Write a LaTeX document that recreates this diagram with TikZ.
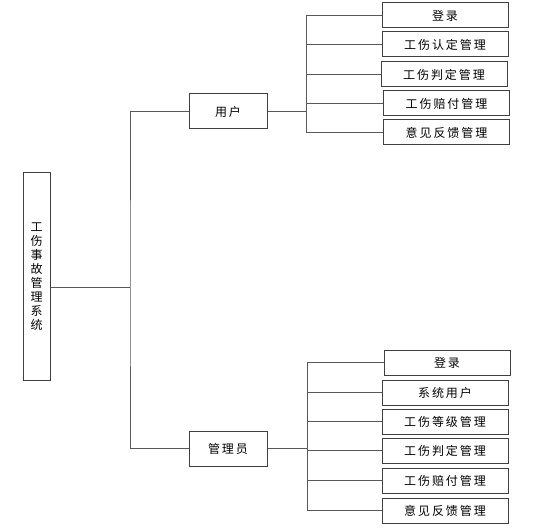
\documentclass[tikz,border=0pt]{standalone}
\usepackage{fontspec}
\setmainfont{Noto Sans CJK SC}[LetterSpace=16]
\usetikzlibrary{positioning}

\begin{document}
\begin{tikzpicture}[x=1pt, y=-1pt,
        box/.style={draw=black!75, line width=1pt, inner sep=0pt, font=\fontsize{12}{14}\selectfont},
        root box/.style={box, minimum width=27, minimum height=207, align=center},
        role box/.style={box, minimum width=78, minimum height=35},
        leaf box/.style={box, minimum width=126, minimum height=25},
        link/.style={draw=black!65, line width=1pt}
    ]
        \useasboundingbox (0,0) rectangle (543,529);

        % root and the two roles
        \node[root box] (system) at (36.5,276.5) {工\\伤\\事\\故\\管\\理\\系\\统};
        \node[role box] (user) at (228,111.5) {用户};
        \node[role box] (admin) at (228,448.5) {管理员};

        % functions of the user
        \node[leaf box] (u1) at (445,15.5) {登录};
        \node[leaf box] (u2) at (445,44.5) {工伤认定管理};
        \node[leaf box] (u3) at (444,74.5) {工伤判定管理};
        \node[leaf box] (u4) at (446.5,103.5) {工伤赔付管理};
        \node[leaf box] (u5) at (446.5,132.5) {意见反馈管理};

        % functions of the admin
        \node[leaf box] (a1) at (447,362.5) {登录};
        \node[leaf box] (a2) at (445,392.5) {系统用户};
        \node[leaf box] (a3) at (445,421.5) {工伤等级管理};
        \node[leaf box] (a4) at (445,450.5) {工伤判定管理};
        \node[leaf box] (a5) at (445,480.5) {工伤赔付管理};
        \node[leaf box] (a6) at (445,510.5) {意见反馈管理};

        \coordinate (trunk) at (130,287);
        \coordinate (ubar) at (306,111.5);
        \coordinate (abar) at (307,448.5);

        \draw[link] (system.east |- trunk) -- (trunk);
        \draw[link] (user.west) -| (trunk) |- (admin.west);

        \draw[link] (user.east) -- (ubar);
        \draw[link] (ubar |- u1.west) -- (ubar |- u5.west);
        \foreach \leaf in {u1,u2,u3,u4,u5}
            \draw[link] (ubar |- \leaf.west) -- (\leaf.west);

        \draw[link] (admin.east) -- (abar);
        \draw[link] (abar |- a1.west) -- (abar |- a6.west);
        \foreach \leaf in {a1,a2,a3,a4,a5,a6}
            \draw[link] (abar |- \leaf.west) -- (\leaf.west);
    \end{tikzpicture}
\end{document}
